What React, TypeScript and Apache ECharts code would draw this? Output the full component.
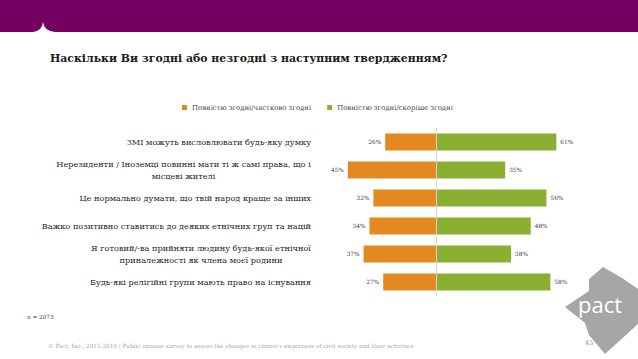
import React, { useEffect, useRef } from "react";
import * as echarts from "echarts";

const categories = [
  "ЗМІ можуть висловлювати будь-яку думку",
  "Нерезиденти / Іноземці повинні мати ті ж самі права, що і\nмісцеві жителі",
  "Це нормально думати, що твій народ краще за інших",
  "Важко позитивно ставитись до деяких етнічних груп та націй",
  "Я готовий/-ва прийняти людину будь-якої етнічної\nприналежності як члена моєї родини",
  "Будь-які релігійні групи мають право на існування",
];
const agreePartly = [26, 45, 32, 34, 37, 27];
const agreeMostly = [61, 35, 56, 48, 38, 58];
const seriesNames = ["Повністю згодні/частково згодні", "Повністю згодні/скоріше згодні"];
const titleText = "Наскільки Ви згодні або незгодні з наступним твердженням?";
const sampleNote = "n = 2073";
const footerText =
  "© Pact, Inc., 2015-2019 | Public opinion survey to assess the changes in citizen's awareness of civil society and their activities";
const pageNumber = "45";
const logoText = "pact";

const SERIF = "DejaVu Serif";
const ORANGE = "#E3891F";
const GREEN = "#8BAF33";
const PURPLE = "#750062";

echarts.graphic.registerShape(
  "notch",
  echarts.graphic.extendPath("M33 32 Q42 31 43 22 Q44 31 55 32 Z", {})
);

function measure(s: string, font: string): number {
  const ctx = document.createElement("canvas").getContext("2d");
  if (!ctx) return s.length * 5;
  ctx.font = font;
  return ctx.measureText(s).width;
}

// font size that makes `text` span `target` pixels
function fit(text: string, weight: string, target: number): number {
  const w = measure(text, `${weight} 10px "${SERIF}"`);
  return Math.round((100 * target) / w) / 10;
}

export default function App() {
  const ref = useRef<HTMLDivElement>(null);

  useEffect(() => {
    if (!ref.current) return;
    const chart = echarts.init(ref.current, null, { renderer: "svg" });

    const titleSize = fit(titleText, "bold", 397);
    const labelSize = fit(categories[3], "normal", 270);
    const legendSize = fit(seriesNames[0], "normal", 120);
    const footerSize = fit(footerText, "normal", 367);
    const valueSize = fit("26%", "normal", 13);

    const labelFont = `${labelSize}px "${SERIF}"`;
    const rich: Record<string, any> = {};
    categories.forEach((c, i) => {
      const lines = c.split("\n");
      if (lines.length > 1) {
        const w = Math.max(...lines.map((l) => measure(l, labelFont)));
        rich[`m${i}`] = {
          width: Math.ceil(w),
          align: "center",
          fontSize: labelSize,
          fontFamily: SERIF,
          color: "#262626",
          lineHeight: 11.5,
        };
      }
    });

    chart.setOption({
      animation: false,
      title: {
        text: titleText,
        left: 50,
        top: 53,
        padding: 0,
        textStyle: { fontSize: titleSize, fontWeight: "bold", fontFamily: SERIF, color: "#1a1a1a" },
      },
      legend: {
        left: 177,
        top: 99,
        itemWidth: 5,
        itemHeight: 5,
        itemGap: 16,
        icon: "rect",
        data: seriesNames,
        textStyle: { fontSize: legendSize, fontFamily: SERIF, color: "#404040" },
      },
      grid: {
        left: 338,
        width: 236,
        top: 128,
        height: 168,
        containLabel: false,
        outerBoundsMode: "none",
      },
      xAxis: { type: "value", min: -50, max: 70, show: false },
      yAxis: {
        type: "category",
        inverse: true,
        data: categories,
        axisLine: { show: false, onZero: false },
        axisTick: { show: false },
        splitLine: { show: false },
        axisLabel: {
          margin: 27,
          fontSize: labelSize,
          fontFamily: SERIF,
          color: "#262626",
          lineHeight: 11.5,
          rich,
          formatter: (val: string, idx: number) => {
            const lines = val.split("\n");
            if (lines.length > 1) return lines.map((l) => `{m${idx}|${l}}`).join("\n");
            return val;
          },
        },
      },
      series: [
        {
          name: seriesNames[0],
          type: "bar",
          stack: "a",
          barWidth: 17,
          itemStyle: { color: ORANGE },
          data: agreePartly.map((v) => -v),
          label: {
            show: true,
            position: "left",
            distance: 4,
            fontSize: valueSize,
            fontFamily: SERIF,
            color: "#404040",
            formatter: (p: any) => `${Math.abs(p.value)}%`,
          },
        },
        {
          name: seriesNames[1],
          type: "bar",
          stack: "a",
          barWidth: 17,
          itemStyle: { color: GREEN },
          data: agreeMostly,
          label: {
            show: true,
            position: "right",
            distance: 4,
            fontSize: valueSize,
            fontFamily: SERIF,
            color: "#404040",
            formatter: (p: any) => `${p.value}%`,
          },
          markLine: {
            silent: true,
            symbol: "none",
            label: { show: false },
            lineStyle: { color: "#d4d4d4", width: 1, type: "solid" },
            data: [{ xAxis: 0 }],
          },
        },
      ],
      graphic: [
        { type: "rect", shape: { x: 0, y: 0, width: 638, height: 32 }, style: { fill: PURPLE } },
        { type: "notch", x: 0, y: 0, style: { fill: "#ffffff" } },
        {
          type: "text",
          x: 27,
          y: 317,
          style: { text: sampleNote, fontSize: footerSize, fontFamily: SERIF, fill: "#404040", verticalAlign: "middle" },
        },
        {
          type: "text",
          x: 48,
          y: 346,
          style: { text: footerText, fontSize: footerSize, fontFamily: SERIF, fill: "#a6a6a6", verticalAlign: "middle" },
        },
        {
          type: "polygon",
          shape: {
            points: [
              [603, 267],
              [622, 278],
              [638, 289],
              [638, 324],
              [605, 354],
              [589, 335],
              [585, 323],
              [565, 307],
              [589, 291],
              [589, 279],
            ],
          },
          style: { fill: "#a6a6a6" },
        },
        {
          type: "text",
          x: 600,
          y: 304,
          style: {
            text: logoText,
            fontSize: 22,
            fontFamily: "Open Sans",
            fill: "#ffffff",
            align: "center",
            verticalAlign: "middle",
          },
        },
        {
          type: "text",
          x: 585,
          y: 343,
          style: { text: pageNumber, fontSize: 6.5, fontFamily: SERIF, fill: "#8c8c8c", verticalAlign: "middle" },
        },
      ],
    });

    return () => chart.dispose();
  }, []);

  return (
    <div
      ref={ref}
      style={{ position: "fixed", left: 0, top: 0, width: 638, height: 359, background: "#ffffff" }}
    />
  );
}
